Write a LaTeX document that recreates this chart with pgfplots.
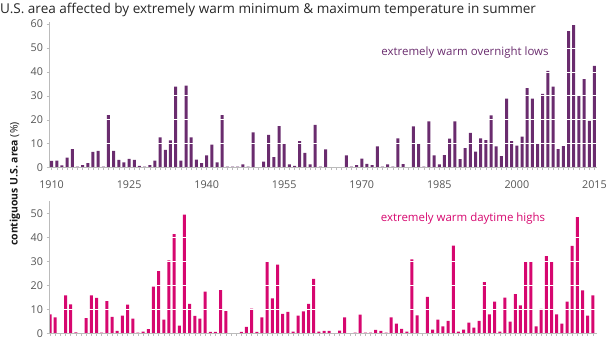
\documentclass[border=0pt]{standalone}
\usepackage{fontspec}
\setmainfont{Open Sans}
\usepackage{pgfplots}
\usepackage{pgfplotstable}
\pgfplotsset{compat=1.18}

\definecolor{lowc}{HTML}{6A2C6E}
\definecolor{highc}{HTML}{D6076F}
\definecolor{axc}{HTML}{BBBBBB}
\definecolor{tickc}{HTML}{555555}

% percent of contiguous U.S. area, summer
\pgfplotstableread{
year low high
1910 2.9 7.9
1911 3.0 6.6
1912 1.0 0.1
1913 4.2 15.8
1914 7.8 12.1
1915 0.5 0.4
1916 1.1 0.1
1917 1.9 6.3
1918 6.6 15.8
1919 7.0 14.8
1920 0.5 0.3
1921 22.0 13.4
1922 7.0 6.8
1923 3.3 1.0
1924 2.2 7.4
1925 3.7 11.9
1926 3.3 6.1
1927 0.8 0.3
1928 0.5 0.7
1929 1.1 1.7
1930 3.0 19.4
1931 12.7 25.9
1932 7.4 5.7
1933 11.4 30.4
1934 33.8 41.3
1935 3.0 3.2
1936 34.3 49.4
1937 12.7 12.3
1938 3.4 7.3
1939 1.9 6.1
1940 5.1 17.4
1941 9.6 0.6
1942 2.2 0.6
1943 22.0 18.0
1944 0.4 9.2
1945 0.4 0.1
1946 0.4 0.1
1947 1.4 0.6
1948 0.4 2.7
1949 14.8 10.3
1950 0.2 0.6
1951 2.5 6.6
1952 13.7 29.7
1953 4.4 14.6
1954 17.4 28.6
1955 9.9 8.1
1956 1.4 8.9
1957 0.8 0.7
1958 11.1 7.4
1959 6.2 9.1
1960 1.4 12.3
1961 17.9 22.7
1962 0.4 0.7
1963 7.7 1.0
1964 0.1 1.0
1965 0.1 0.0
1966 0.1 1.1
1967 5.1 6.6
1968 0.4 0.0
1969 1.1 0.3
1970 3.8 7.8
1971 1.6 0.3
1972 1.1 0.3
1973 8.9 1.4
1974 0.4 1.0
1975 1.4 0.3
1976 0.4 6.6
1977 12.2 4.0
1978 1.5 1.8
1979 0.1 0.7
1980 17.3 30.8
1981 9.9 7.5
1982 0.4 0.1
1983 19.3 15.2
1984 5.1 1.5
1985 1.4 5.7
1986 5.3 2.9
1987 12.1 5.2
1988 19.3 36.5
1989 3.6 0.7
1990 8.2 1.5
1991 14.5 4.5
1992 6.7 2.4
1993 12.2 5.2
1994 11.5 21.3
1995 21.8 7.9
1996 8.9 13.2
1997 4.8 0.7
1998 28.8 14.9
1999 11.1 4.9
2000 9.2 16.3
2001 13.0 11.6
2002 33.2 30.1
2003 28.8 29.7
2004 10.3 2.9
2005 30.8 10.2
2006 40.4 32.2
2007 33.8 30.1
2008 7.8 7.9
2009 9.0 4.0
2010 57.0 13.2
2011 59.6 36.4
2012 30.3 48.4
2013 37.0 17.9
2014 19.5 7.4
2015 42.5 15.8
}\summer

\pgfplotsset{panel/.style={
  scale only axis, width=548bp,
  xmin=1909.5, xmax=2015.5, ymin=0,
  axis x line*=bottom, axis y line*=left,
  axis line style={axc, line width=0.6pt},
  ybar, bar width=3bp,
  ytick distance=10,
  ymajorgrids, grid style={white, line width=0.7pt},
  axis on top,
  xtick={1910,1925,...,2015}, minor x tick num=14,
  tick style={axc, line width=0.5pt},
  major tick length=2.5bp, minor tick length=2.5bp,
  tick align=outside,
  ticklabel style={font=\fontsize{10.8}{12}\selectfont, text=tickc},
  xticklabel style={yshift=-7bp},
  /pgf/number format/assume math mode=true,
  /pgf/number format/1000 sep={},
  anchor=south west,
}}

\begin{document}
\begin{tikzpicture}
\path[use as bounding box] (0,0) rectangle (610bp,347bp);

\begin{axis}[panel, at={(49bp,179.3bp)}, height=146.1bp, ymax=61]
  \addplot[fill=lowc, draw=none] table[x=year, y=low] {\summer};
\end{axis}

\begin{axis}[panel, at={(49bp,13.7bp)}, height=132bp, ymax=55,
  xmin=1909.8, xmax=2015.8, xticklabels={}]
  \addplot[fill=highc, draw=none] table[x=year, y=high] {\summer};
\end{axis}

\node[anchor=base west, text=black!85, font=\fontsize{13.6}{15}\selectfont, inner sep=0pt]
  at (0bp,333bp) {U.S. area affected by extremely warm minimum \& maximum temperature in summer};
\node[text=lowc, font=\fontsize{11.5}{13}\selectfont] at (465bp,294bp) {extremely warm overnight lows};
\node[text=highc, font=\fontsize{11.5}{13}\selectfont] at (463bp,128bp) {extremely warm daytime highs};
\node[rotate=90, text=black!90, font=\fontsize{10.5}{12}\selectfont] at (15bp,163bp)
  {\bfseries contiguous U.S. area \mdseries(\%)};
\end{tikzpicture}
\end{document}
